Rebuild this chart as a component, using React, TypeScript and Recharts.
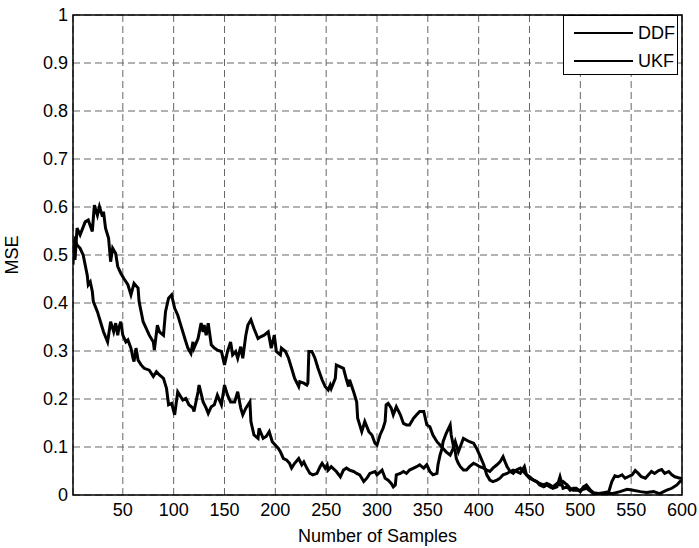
import { LineChart, Line, XAxis, YAxis, CartesianGrid, Legend, ReferenceArea } from 'recharts';

const ddfSamples = [1, 3, 5, 8, 11, 15, 16, 18, 20, 21, 25, 28, 31, 35, 36, 38, 40, 41, 43, 45, 46, 48, 50, 53, 55, 58, 60, 61, 63, 65, 68, 71, 76, 80, 83, 86, 90, 93, 95, 98, 101, 104, 109, 112, 115, 119, 120, 124, 125, 129, 132, 134, 137, 140, 143, 147, 150, 153, 156, 160, 163, 166, 168, 171, 175, 176, 179, 183, 184, 188, 191, 194, 197, 203, 205, 208, 211, 214, 216, 219, 223, 226, 228, 231, 234, 237, 241, 244, 246, 249, 251, 252, 255, 260, 264, 267, 270, 273, 277, 280, 283, 287, 290, 293, 298, 300, 305, 308, 311, 314, 316, 318, 319, 323, 326, 329, 332, 336, 339, 342, 346, 349, 352, 355, 359, 360, 362, 364, 365, 368, 372, 373, 375, 377, 378, 380, 382, 385, 388, 391, 395, 398, 401, 405, 408, 411, 414, 418, 421, 424, 426, 428, 431, 434, 437, 441, 444, 447, 450, 454, 457, 460, 464, 467, 470, 473, 477, 480, 483, 487, 490, 493, 500, 506, 513, 519, 526, 532, 539, 546, 552, 559, 565, 572, 578, 585, 590, 595, 598, 600];
const ddfMse = [0.5, 0.53, 0.521, 0.514, 0.5, 0.458, 0.438, 0.444, 0.424, 0.403, 0.382, 0.361, 0.34, 0.319, 0.333, 0.361, 0.347, 0.34, 0.358, 0.333, 0.347, 0.361, 0.333, 0.319, 0.323, 0.306, 0.285, 0.278, 0.306, 0.281, 0.271, 0.264, 0.26, 0.247, 0.257, 0.25, 0.243, 0.222, 0.188, 0.191, 0.167, 0.215, 0.198, 0.201, 0.188, 0.181, 0.174, 0.215, 0.229, 0.194, 0.181, 0.17, 0.184, 0.188, 0.208, 0.188, 0.229, 0.208, 0.194, 0.194, 0.215, 0.181, 0.167, 0.181, 0.194, 0.153, 0.125, 0.118, 0.139, 0.118, 0.122, 0.132, 0.111, 0.097, 0.09, 0.076, 0.073, 0.066, 0.056, 0.066, 0.076, 0.063, 0.069, 0.056, 0.045, 0.042, 0.045, 0.059, 0.066, 0.056, 0.063, 0.052, 0.059, 0.049, 0.038, 0.052, 0.056, 0.052, 0.049, 0.045, 0.042, 0.028, 0.035, 0.045, 0.049, 0.042, 0.052, 0.035, 0.031, 0.024, 0.017, 0.021, 0.042, 0.045, 0.049, 0.045, 0.052, 0.056, 0.059, 0.063, 0.056, 0.063, 0.049, 0.042, 0.045, 0.063, 0.083, 0.097, 0.111, 0.128, 0.146, 0.125, 0.104, 0.09, 0.076, 0.066, 0.059, 0.052, 0.052, 0.059, 0.066, 0.063, 0.059, 0.056, 0.052, 0.049, 0.056, 0.063, 0.069, 0.08, 0.069, 0.059, 0.049, 0.045, 0.052, 0.056, 0.049, 0.042, 0.038, 0.031, 0.028, 0.024, 0.021, 0.024, 0.021, 0.017, 0.024, 0.021, 0.028, 0.021, 0.014, 0.01, 0.01, 0.014, 0.003, 0.002, 0.003, 0.003, 0.007, 0.012, 0.01, 0.007, 0.005, 0.007, 0.003, 0.01, 0.014, 0.021, 0.028, 0.03];

const ukfSamples = [1, 2, 3, 5, 8, 13, 16, 20, 22, 25, 27, 30, 31, 33, 36, 38, 40, 43, 45, 48, 51, 55, 58, 61, 65, 66, 70, 73, 76, 80, 81, 84, 86, 90, 92, 95, 98, 101, 104, 107, 111, 114, 117, 119, 120, 124, 127, 129, 130, 132, 134, 137, 140, 143, 147, 150, 153, 156, 158, 161, 163, 166, 168, 171, 173, 176, 179, 183, 186, 189, 193, 196, 199, 201, 205, 206, 210, 213, 216, 219, 223, 224, 228, 231, 232, 233, 236, 239, 242, 246, 249, 252, 254, 255, 259, 260, 264, 267, 270, 272, 273, 277, 280, 281, 283, 285, 288, 292, 295, 298, 300, 303, 306, 308, 309, 311, 314, 316, 319, 323, 326, 329, 332, 336, 339, 342, 346, 349, 352, 355, 359, 362, 365, 368, 372, 375, 377, 380, 385, 391, 395, 398, 401, 405, 408, 411, 414, 418, 421, 424, 428, 431, 434, 437, 441, 445, 447, 450, 454, 457, 460, 464, 467, 470, 473, 477, 480, 483, 487, 490, 493, 496, 500, 503, 506, 510, 513, 518, 523, 528, 531, 534, 537, 541, 544, 547, 551, 554, 557, 560, 564, 567, 570, 573, 577, 580, 583, 587, 590, 593, 598, 600];
const ukfMse = [0.48, 0.53, 0.49, 0.556, 0.542, 0.569, 0.573, 0.549, 0.604, 0.583, 0.601, 0.58, 0.59, 0.556, 0.535, 0.486, 0.514, 0.503, 0.476, 0.462, 0.451, 0.438, 0.417, 0.441, 0.431, 0.403, 0.361, 0.347, 0.333, 0.319, 0.302, 0.354, 0.34, 0.333, 0.382, 0.41, 0.417, 0.389, 0.375, 0.354, 0.326, 0.306, 0.295, 0.319, 0.306, 0.326, 0.358, 0.34, 0.354, 0.333, 0.358, 0.313, 0.306, 0.302, 0.299, 0.271, 0.299, 0.319, 0.292, 0.299, 0.285, 0.309, 0.285, 0.333, 0.354, 0.365, 0.347, 0.326, 0.33, 0.333, 0.34, 0.306, 0.333, 0.299, 0.292, 0.306, 0.299, 0.285, 0.264, 0.243, 0.226, 0.236, 0.233, 0.229, 0.233, 0.299, 0.299, 0.285, 0.264, 0.24, 0.226, 0.219, 0.229, 0.222, 0.243, 0.271, 0.267, 0.264, 0.24, 0.226, 0.24, 0.215, 0.194, 0.16, 0.146, 0.132, 0.153, 0.132, 0.125, 0.108, 0.104, 0.125, 0.139, 0.153, 0.188, 0.191, 0.181, 0.167, 0.184, 0.167, 0.149, 0.146, 0.146, 0.16, 0.167, 0.174, 0.174, 0.146, 0.142, 0.125, 0.111, 0.104, 0.097, 0.09, 0.083, 0.097, 0.111, 0.09, 0.118, 0.111, 0.108, 0.097, 0.083, 0.063, 0.042, 0.031, 0.028, 0.031, 0.035, 0.042, 0.045, 0.049, 0.052, 0.049, 0.045, 0.059, 0.042, 0.035, 0.031, 0.028, 0.021, 0.017, 0.021, 0.017, 0.014, 0.017, 0.038, 0.014, 0.017, 0.01, 0.014, 0.014, 0.007, 0.017, 0.021, 0.01, 0.005, 0.003, 0.005, 0.007, 0.028, 0.04, 0.038, 0.042, 0.035, 0.038, 0.042, 0.051, 0.045, 0.038, 0.035, 0.042, 0.049, 0.045, 0.051, 0.053, 0.045, 0.049, 0.042, 0.038, 0.035, 0.035];

const xTicks = [50, 100, 150, 200, 250, 300, 350, 400, 450, 500, 550, 600];
const yTicks = [0, 0.1, 0.2, 0.3, 0.4, 0.5, 0.6, 0.7, 0.8, 0.9, 1];

const ddfData = ddfSamples.map((s, i) => ({ sample: s, mse: ddfMse[i] }));
const ukfData = ukfSamples.map((s, i) => ({ sample: s, mse: ukfMse[i] }));

const font = '"Liberation Sans", Arial, sans-serif';

const renderLegend = (props: any) => {
  const items = props.payload ?? [];
  return (
    <div style={{ border: '1px solid #000', background: '#fff', width: 113, height: 58, boxSizing: 'content-box', fontFamily: font }}>
      {items.map((item: any, i: number) => (
        <div key={i} style={{ display: 'flex', alignItems: 'center', height: 28, marginTop: i === 0 ? 3 : 0 }}>
          <div style={{ width: 59, height: 2.5, background: '#000', marginLeft: 10 }} />
          <span style={{ marginLeft: 5, fontSize: 18, color: '#000' }}>{item.value}</span>
        </div>
      ))}
    </div>
  );
};

export default function App() {
  return (
    <div style={{ position: 'absolute', left: 0, top: 0, background: '#fff', fontFamily: font }}>
      <LineChart width={699} height={548} margin={{ top: 15, right: 17, left: 0, bottom: 0 }}>
        <CartesianGrid stroke="#666" strokeDasharray="7 4" />
        <XAxis
          dataKey="sample"
          type="number"
          domain={[1, 600]}
          ticks={xTicks}
          allowDataOverflow
          axisLine={false}
          tickLine={false}
          tickSize={0}
          tickMargin={8}
          height={53}
          tick={{ fill: '#000', fontSize: 18 }}
          label={{ value: 'Number of Samples', position: 'insideBottom', offset: 6, fill: '#000', fontSize: 18 }}
        />
        <YAxis
          type="number"
          domain={[0, 1]}
          ticks={yTicks}
          allowDataOverflow
          axisLine={false}
          tickLine={false}
          tickSize={0}
          tickMargin={5}
          width={73}
          tick={{ fill: '#000', fontSize: 18 }}
          label={{ value: 'MSE', angle: -90, position: 'insideLeft', offset: 12, fill: '#000', fontSize: 18, style: { textAnchor: 'middle' } }}
        />
        <ReferenceArea x1={1} x2={600} y1={0} y2={1} fill="none" fillOpacity={0} stroke="#000" strokeWidth={1.5} />
        <Line data={ddfData} dataKey="mse" name="DDF" type="linear" stroke="#000" strokeWidth={3} dot={false} isAnimationActive={false} />
        <Line data={ukfData} dataKey="mse" name="UKF" type="linear" stroke="#000" strokeWidth={3} dot={false} isAnimationActive={false} />
        <Legend
          layout="horizontal"
          verticalAlign="middle"
          align="center"
          content={renderLegend}
          wrapperStyle={{ position: 'absolute', left: 563, top: 15, width: 115, height: 60 }}
        />
      </LineChart>
    </div>
  );
}
